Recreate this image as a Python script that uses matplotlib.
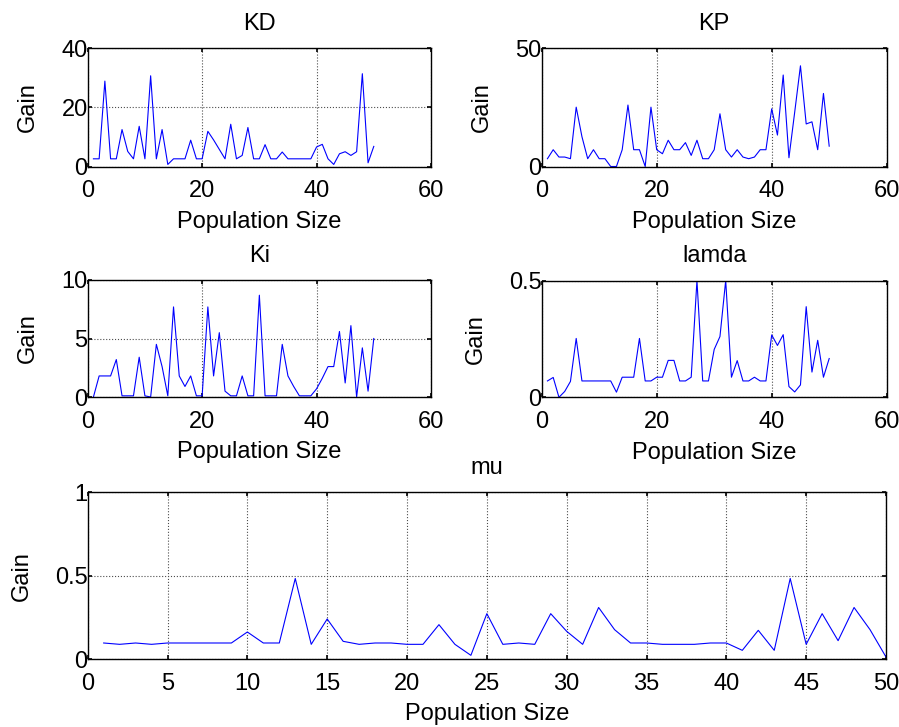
import matplotlib
matplotlib.use("Agg")
import matplotlib.pyplot as plt
import numpy as np

plt.rcParams['font.family'] = ['Liberation Sans', 'DejaVu Sans']
plt.rcParams['font.size'] = 17

pop = np.arange(1, 51)

kd = [2.6, 2.6, 28.9, 2.6, 2.6, 12.5, 5.1, 2.6, 13.6, 2.6,
      30.7, 2.6, 12.5, 0.7, 2.6, 2.6, 2.6, 8.9, 2.6, 2.6,
      11.9, 9.0, 5.8, 2.6, 14.3, 2.6, 3.75, 13.2, 2.6, 2.6,
      7.4, 2.6, 2.6, 4.9, 2.6, 2.6, 2.6, 2.6, 2.6, 6.6,
      7.5, 2.6, 0.7, 4.3, 5.0, 3.75, 5.0, 31.4, 1.25, 6.8]

kp = [3.3, 7.1, 4.0, 4.0, 3.3, 25.1, 12.6, 3.3, 7.1, 3.3,
      3.3, 0.0, 0.0, 7.1, 26.0, 7.1, 7.1, 0.0, 25.1, 7.1,
      5.4, 11.1, 7.1, 7.1, 10.1, 4.7, 11.1, 3.3, 3.3, 7.1,
      22.3, 7.1, 4.0, 7.1, 4.0, 3.3, 4.0, 7.1, 7.1, 24.4,
      13.3, 38.7, 3.7, 23.0, 42.6, 18.0, 18.9, 7.1, 30.9, 8.6]

ki = [0.0, 1.8, 1.8, 1.8, 3.2, 0.1, 0.1, 0.1, 3.4, 0.1,
      0.0, 4.5, 2.6, 0.1, 7.7, 1.8, 0.9, 1.8, 0.1, 0.1,
      7.7, 1.8, 5.5, 0.5, 0.1, 0.1, 1.8, 0.1, 0.1, 8.7,
      0.1, 0.1, 0.1, 4.5, 1.8, 0.9, 0.1, 0.1, 0.1, 0.7,
      1.6, 2.6, 2.6, 5.6, 1.2, 6.1, 0.0, 4.2, 0.5, 5.0]

lamda = [0.07, 0.085, 0.0, 0.025, 0.068, 0.252, 0.07, 0.07, 0.07, 0.07,
         0.07, 0.07, 0.022, 0.086, 0.086, 0.086, 0.252, 0.07, 0.07, 0.086,
         0.086, 0.158, 0.158, 0.07, 0.07, 0.086, 0.5, 0.07, 0.07, 0.205,
         0.26, 0.5, 0.086, 0.157, 0.07, 0.07, 0.086, 0.07, 0.07, 0.267,
         0.222, 0.268, 0.046, 0.023, 0.053, 0.388, 0.108, 0.244, 0.086, 0.166]

mu = [0.096, 0.088, 0.096, 0.088, 0.096, 0.096, 0.096, 0.096, 0.096, 0.162,
      0.096, 0.096, 0.483, 0.088, 0.24, 0.106, 0.088, 0.096, 0.096, 0.088,
      0.088, 0.206, 0.088, 0.022, 0.272, 0.088, 0.096, 0.088, 0.272, 0.166,
      0.088, 0.309, 0.176, 0.096, 0.096, 0.088, 0.088, 0.088, 0.096, 0.096,
      0.052, 0.172, 0.052, 0.483, 0.088, 0.272, 0.11, 0.309, 0.176, 0.012]

W, H = 899, 727
fig = plt.figure(figsize=(W / 100, H / 100), dpi=100)


def box(left, top, right, bottom):
    # pixel box -> figure fraction
    return [left / W, 1 - bottom / H, (right - left) / W, (bottom - top) / H]


def panel(rect, y, title, xlim, xticks, ylim, yticks):
    ax = fig.add_axes(rect)
    ax.plot(pop, y, color='#0000ff', lw=0.8)
    ax.set_xlim(xlim)
    ax.set_ylim(ylim)
    ax.set_xticks(xticks)
    ax.set_yticks(yticks)
    ax.set_yticklabels([('%g' % v) for v in yticks])
    ax.grid(True, color='0.3', ls=':', lw=0.8)
    ax.tick_params(direction='in', top=True, right=True, length=3, width=1.2)
    ax.tick_params(axis='x', pad=10)
    ax.tick_params(axis='y', pad=0)
    for s in ax.spines.values():
        s.set_linewidth(1.0)
    ax.set_title(title, pad=13, fontsize=17)
    ax.set_xlabel('Population Size', labelpad=6)
    ax.set_ylabel('Gain', labelpad=16)
    return ax


panel(box(87.7, 48.3, 431, 166.5), kd, 'KD', (0, 60), [0, 20, 40, 60], (0, 40), [0, 20, 40])
panel(box(541.7, 48.3, 886.7, 166.5), kp, 'KP', (0, 60), [0, 20, 40, 60], (0, 50), [0, 50])
panel(box(87.7, 280, 431, 397), ki, 'Ki', (0, 60), [0, 20, 40, 60], (0, 10), [0, 5, 10])
panel(box(541.7, 280.5, 886.7, 397.3), lamda, 'lamda', (0, 60), [0, 20, 40, 60], (0, 0.5), [0, 0.5])
panel(box(87.7, 492.3, 886, 659), mu, 'mu', (0, 50), list(range(0, 51, 5)), (0, 1), [0, 0.5, 1])

fig.savefig('out.png', dpi=100)
